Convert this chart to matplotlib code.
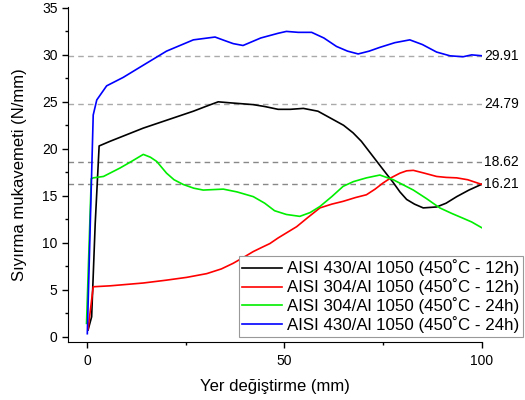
import numpy as np
import matplotlib
matplotlib.use('Agg')
import matplotlib.pyplot as plt

plt.rcParams['font.family'] = ['Liberation Sans', 'DejaVu Sans']

# AISI 430/Al 1050 (450˚C - 12h)
x_k = [0.2, 1.1, 2.0, 3.0, 5.8, 14.2, 26.9, 30.0, 33.2, 36.0, 42.1, 45.0, 48.4, 51.5, 54.8,
       58.5, 62.4, 65.0, 67.4, 69.5, 71.7, 75.0, 77.6, 79.3, 81.0, 83.0, 85.2, 88.6, 91.0,
       93.7, 96.8, 100.0]
y_k = [0.7, 2.1, 12.0, 20.3, 20.8, 22.2, 24.0, 24.5, 25.0, 24.9, 24.7, 24.5, 24.2, 24.2, 24.3,
       24.0, 23.1, 22.5, 21.7, 20.8, 19.6, 17.8, 16.4, 15.4, 14.6, 14.1, 13.7, 13.8, 14.2,
       14.9, 15.6, 16.21]

# AISI 304/Al 1050 (450˚C - 12h)
x_r = [0.2, 1.5, 5.8, 14.2, 20.0, 25.2, 30.3, 34.0, 37.0, 39.5, 42.1, 44.3, 46.3, 48.4, 53.1,
       56.0, 59.0, 62.0, 64.9, 68.0, 70.8, 73.0, 75.0, 77.0, 79.3, 81.0, 82.7, 85.5, 88.6,
       91.0, 93.7, 96.5, 100.0]
y_r = [0.8, 5.3, 5.4, 5.7, 6.0, 6.3, 6.7, 7.2, 7.8, 8.4, 9.05, 9.5, 9.9, 10.5, 11.7,
       12.7, 13.7, 14.1, 14.4, 14.8, 15.1, 15.7, 16.35, 16.9, 17.4, 17.65, 17.7, 17.4, 17.05,
       16.95, 16.9, 16.7, 16.21]

# AISI 304/Al 1050 (450˚C - 24h)
x_g = [-0.2, 1.0, 1.5, 4.1, 8.3, 11.0, 14.2, 16.0, 17.6, 20.1, 22.0, 24.3, 27.0, 29.4, 34.5,
       38.0, 42.1, 45.0, 47.5, 50.5, 53.9, 56.5, 59.0, 62.0, 64.9, 67.5, 70.8, 74.2, 77.6,
       82.7, 86.0, 89.4, 92.5, 95.3, 97.5, 100.0]
y_g = [1.4, 16.8, 16.9, 17.05, 17.95, 18.6, 19.4, 19.1, 18.65, 17.4, 16.7, 16.2, 15.8, 15.6, 15.7,
       15.4, 14.9, 14.2, 13.4, 13.0, 12.8, 13.2, 13.85, 14.9, 16.0, 16.5, 16.9, 17.2, 16.7,
       15.6, 14.7, 13.7, 13.1, 12.6, 12.2, 11.6]

# AISI 430/Al 1050 (450˚C - 24h)
x_b = [0.0, 1.5, 2.4, 4.9, 9.1, 13.8, 20.1, 26.9, 32.4, 35.0, 37.0, 39.5, 44.0, 48.4, 50.5,
       53.5, 56.9, 60.0, 63.2, 66.0, 68.7, 71.5, 74.2, 78.0, 81.8, 85.0, 88.6, 92.0, 95.3,
       97.5, 100.0]
y_b = [0.3, 23.6, 25.2, 26.7, 27.6, 28.8, 30.4, 31.6, 31.9, 31.5, 31.2, 31.0, 31.8, 32.3, 32.5,
       32.4, 32.4, 31.8, 30.9, 30.4, 30.1, 30.4, 30.8, 31.3, 31.6, 31.1, 30.3, 29.9, 29.8,
       30.0, 29.91]

# son değerler (kesikli çizgiler)
ref_values = [29.91, 24.79, 18.62, 16.21]
ref_colors = ['#aaaaaa', '#aaaaaa', '#888888', '#888888']

labels = ['AISI 430/Al 1050 (450˚C - 12h)', 'AISI 304/Al 1050 (450˚C - 12h)',
          'AISI 304/Al 1050 (450˚C - 24h)', 'AISI 430/Al 1050 (450˚C - 24h)']

fig = plt.figure(figsize=(5.25, 4), dpi=100)
ax = fig.add_axes([0.1295, 0.1458, 0.7885, 0.8367])

xmin, xmax = -4.9, 100.1
for v, c in zip(ref_values, ref_colors):
    ax.plot([xmin, 100], [v, v], color=c, lw=1.0, dashes=(4, 3), zorder=1)
    ax.text(100.6, v, '%.2f' % v, fontsize=10, va='center', ha='left')

l1, = ax.plot(x_k, y_k, color='black', lw=1.2, label=labels[0])
l2, = ax.plot(x_r, y_r, color='red', lw=1.2, label=labels[1])
l3, = ax.plot(x_g, y_g, color='#00ee00', lw=1.2, label=labels[2])
l4, = ax.plot(x_b, y_b, color='blue', lw=1.2, label=labels[3])

ax.set_xlim(xmin, xmax)
ax.set_ylim(-0.55, 35.1)
ax.set_xticks([0, 50, 100])
ax.set_xticks([25, 75], minor=True)
ax.set_yticks(np.arange(0, 36, 5))
ax.set_yticks(np.arange(2.5, 35, 5), minor=True)
ax.tick_params(which='major', direction='out', length=4, width=1, labelsize=10)
ax.tick_params(axis='x', which='major', pad=5)
ax.tick_params(which='minor', direction='out', length=2.5, width=1)
ax.spines['top'].set_visible(False)
ax.spines['right'].set_visible(False)

ax.set_xlabel('Yer değiştirme (mm)', fontsize=12, labelpad=8)
ax.set_ylabel('Sıyırma mukavemeti (N/mm)', fontsize=12, labelpad=11)

leg = ax.legend(handles=[l1, l2, l3, l4], loc='lower right', bbox_to_anchor=(0.996, 0.158),
                bbox_transform=fig.transFigure, borderaxespad=0, fontsize=12.2,
                fancybox=False, edgecolor='#999999', framealpha=1, labelspacing=0.12,
                handlelength=2.35, handletextpad=0.3, borderpad=0.2)
leg.get_frame().set_linewidth(0.8)

fig.savefig('out.png', dpi=100)
